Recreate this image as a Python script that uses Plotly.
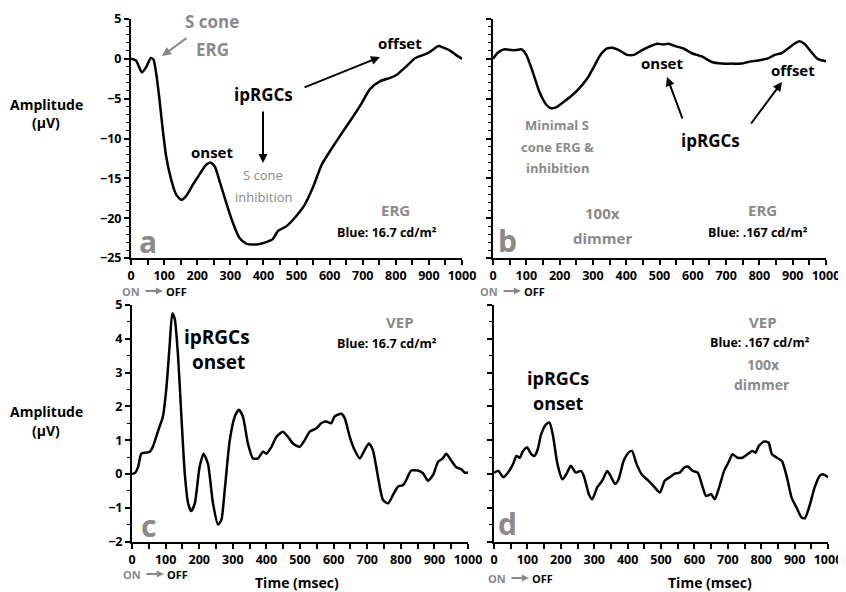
import plotly.graph_objects as go

# ---------------- data ----------------
time_a = [0, 15, 33, 45, 60, 68, 76, 86, 96, 106, 121, 136, 152, 167, 187, 207, 227, 240, 253, 268,
          288, 308, 328, 348, 379, 409, 429, 444, 470, 500, 525, 551, 576, 601, 631, 662, 692, 722,
          753, 783, 803, 833, 859, 884, 899, 914, 929, 944, 965, 985, 1000]
amp_a = [0, -0.2, -1.7, -1.1, 0.1, -0.1, -1.8, -5.1, -8.9, -12.2, -15.1, -17.0, -17.7, -17.2, -15.8,
         -14.5, -13.3, -13.0, -13.5, -15.4, -18.1, -20.6, -22.5, -23.2, -23.3, -23.0, -22.6, -21.6,
         -21.0, -19.7, -18.3, -16.0, -13.3, -11.6, -9.7, -7.8, -5.9, -3.8, -2.8, -2.4, -2.0, -0.9,
         0.1, 0.5, 0.75, 1.2, 1.6, 1.4, 1.0, 0.4, 0]

time_b = [0, 15, 35, 55, 70, 85, 100, 119, 139, 159, 174, 189, 209, 234, 259, 284, 303, 323, 343,
          358, 378, 403, 423, 448, 473, 493, 512, 527, 547, 572, 597, 627, 657, 687, 716, 746, 766,
          796, 826, 846, 866, 886, 905, 920, 935, 955, 975, 1000]
amp_b = [0, 0.8, 1.2, 1.1, 1.1, 1.2, 0.5, -1.6, -4.1, -5.7, -6.2, -6.1, -5.5, -4.7, -3.7, -2.4,
         -1.0, 0.5, 1.3, 1.4, 1.1, 0.5, 0.5, 1.1, 1.6, 1.9, 1.8, 1.9, 1.6, 1.3, 0.7, 0.3, -0.4,
         -0.6, -0.6, -0.6, -0.4, -0.2, 0.05, 0.5, 0.7, 1.3, 1.9, 2.2, 1.9, 0.9, 0.0, -0.3]

time_c = [0, 10, 18, 28, 43, 53, 62, 72, 82, 92, 102, 112, 120, 127, 137, 147, 157, 167, 176, 187,
          201, 213, 226, 241, 256, 266, 276, 291, 306, 318, 330, 345, 360, 375, 390, 400, 415, 430,
          449, 464, 479, 499, 514, 529, 549, 563, 578, 593, 603, 623, 633, 648, 663, 678, 692, 705,
          717, 732, 747, 762, 777, 792, 807, 816, 831, 851, 866, 881, 896, 911, 925, 935, 950, 965,
          980, 990, 1000]
amp_c = [0, 0.04, 0.2, 0.6, 0.63, 0.66, 0.8, 1.1, 1.4, 1.7, 2.5, 3.8, 4.75, 4.6, 3.5, 1.7, 0.02,
         -0.87, -1.1, -0.87, 0.2, 0.6, 0.3, -0.87, -1.5, -1.36, -0.47, 1.0, 1.7, 1.9, 1.7, 0.9,
         0.46, 0.46, 0.66, 0.6, 0.8, 1.1, 1.25, 1.1, 0.9, 0.8, 1.0, 1.25, 1.35, 1.5, 1.55, 1.5,
         1.7, 1.78, 1.65, 1.1, 0.7, 0.46, 0.7, 0.9, 0.7, -0.08, -0.77, -0.87, -0.62, -0.37, -0.33,
         -0.18, 0.1, 0.1, 0.02, -0.2, -0.03, 0.36, 0.46, 0.6, 0.4, 0.2, 0.14, 0.04, 0.04]

time_d = [0, 13, 28, 42, 57, 67, 77, 87, 99, 112, 121, 131, 141, 156, 166, 176, 190, 205, 217, 230,
          245, 260, 269, 284, 294, 309, 324, 339, 349, 363, 373, 388, 403, 413, 427, 442, 462, 477,
          497, 511, 526, 541, 556, 570, 580, 595, 610, 625, 635, 650, 661, 674, 689, 704, 714, 729,
          744, 759, 773, 783, 793, 809, 822, 832, 847, 862, 877, 891, 906, 921, 931, 946, 960, 975,
          985, 1000]
amp_d = [0.04, 0.09, -0.1, 0.04, 0.29, 0.53, 0.48, 0.68, 0.78, 0.58, 0.53, 0.73, 1.17, 1.47, 1.52,
         1.17, 0.29, -0.16, 0.0, 0.24, 0.04, 0.09, -0.06, -0.6, -0.75, -0.4, -0.2, 0.09, -0.06,
         -0.3, -0.16, 0.38, 0.63, 0.68, 0.29, -0.01, -0.2, -0.35, -0.55, -0.2, -0.1, 0.01, 0.04,
         0.19, 0.22, 0.09, 0.04, -0.4, -0.65, -0.6, -0.75, -0.4, 0.09, 0.38, 0.58, 0.48, 0.48,
         0.58, 0.68, 0.63, 0.83, 0.96, 0.93, 0.58, 0.48, 0.38, -0.1, -0.7, -1.0, -1.29, -1.31,
         -0.9, -0.4, -0.06, -0.01, -0.1]

x_ticks = [0, 100, 200, 300, 400, 500, 600, 700, 800, 900, 1000]
erg_ticks = [5, 0, -5, -10, -15, -20, -25]
vep_ticks = [5, 4, 3, 2, 1, 0, -1, -2]

# ---------------- layout helpers ----------------
# the page body adds an 8px margin at top/left; the figure fills the rest of the window
OFF = 8
W, H = 846 - OFF, 592 - OFF
def px(x):
    return (x - OFF) / W
def py(y):
    return 1 - (y - OFF) / H

FONT = "Open Sans"
GRAY = "#8a8a8a"

fig = go.Figure()
series = [(time_a, amp_a, "x", "y"), (time_b, amp_b, "x2", "y2"),
          (time_c, amp_c, "x3", "y3"), (time_d, amp_d, "x4", "y4")]
for t, a, xa, ya in series:
    fig.add_trace(go.Scatter(x=t, y=a, xaxis=xa, yaxis=ya, mode="lines",
                             line=dict(color="black", width=2.5, shape="spline", smoothing=0.6),
                             showlegend=False, hoverinfo="skip"))

def xaxis(domain, anchor):
    return dict(domain=domain, anchor=anchor, range=[0, 1000], tickvals=x_ticks,
                ticks="outside", ticklen=5, tickwidth=1.5, tickcolor="black",
                showline=True, linewidth=2, linecolor="black", showgrid=False, zeroline=False,
                automargin=False, ticklabeloverflow="allow",
                minor=dict(dtick=50, tick0=0, ticks="outside", ticklen=5, tickwidth=1.5, tickcolor="black"),
                tickfont=dict(family=FONT, size=12.5, color="black", weight="bold"),
                fixedrange=True)

def yaxis(domain, anchor, rng, ticks, minor_dt, labels):
    return dict(domain=domain, anchor=anchor, range=rng, tickvals=ticks,
                ticks="outside", ticklen=5, tickwidth=1.5, tickcolor="black",
                showline=True, linewidth=2, linecolor="black", showgrid=False, zeroline=False,
                showticklabels=labels, automargin=False, ticklabeloverflow="allow",
                minor=dict(dtick=minor_dt, tick0=0, ticks="outside", ticklen=3, tickwidth=1.2, tickcolor="black"),
                tickfont=dict(family=FONT, size=12.5, color="black", weight="bold"),
                fixedrange=True)

top_y = [py(258), py(19)]
bot_y = [py(541.5), py(305)]
fig.update_layout(
    width=W, height=H, margin=dict(l=0, r=0, t=0, b=0),
    paper_bgcolor="white", plot_bgcolor="white",
    xaxis=xaxis([px(131), px(462)], "y"),
    yaxis=yaxis(top_y, "x", [-25, 5], erg_ticks, 1, True),
    xaxis2=xaxis([px(493), px(826)], "y2"),
    yaxis2=yaxis(top_y, "x2", [-25, 5], erg_ticks, 1, False),
    xaxis3=xaxis([px(132), px(468)], "y3"),
    yaxis3=yaxis(bot_y, "x3", [-2, 5], vep_ticks, 0.5, True),
    xaxis4=xaxis([px(494), px(828)], "y4"),
    yaxis4=yaxis(bot_y, "x4", [-2, 5], vep_ticks, 0.5, False),
)

def text(x, y, s, size=15, color="black", bold=True):
    fig.add_annotation(x=px(x), y=py(y), xref="paper", yref="paper", text=s, showarrow=False,
                       xanchor="center", yanchor="middle",
                       font=dict(family=FONT, size=size, color=color, weight="bold" if bold else "normal"))

def arrow(x0, y0, x1, y1, color="black", width=2, head=2, size=1.0):
    # tail (x0,y0) -> head (x1,y1) in pixel coordinates
    fig.add_annotation(x=px(x1), y=py(y1), xref="paper", yref="paper", text="",
                       showarrow=True, ax=x0 - x1, ay=y0 - y1, axref="pixel", ayref="pixel",
                       arrowhead=head, arrowsize=size, arrowwidth=width, arrowcolor=color)

# y axis titles
for yc in (104, 411):
    text(46, yc, "Amplitude", 14)
    text(46, yc + 19, "(µV)", 14)
# x axis titles
text(297, 582, "Time (msec)", 14)
text(710, 582, "Time (msec)", 14)

# ON -> OFF markers
for (xon, y) in [(131, 291), (489, 291), (132, 574), (497, 578)]:
    text(xon, y, "ON", 11, GRAY)
    arrow(xon + 13, y, xon + 32, y, GRAY, 1.8, 2, 0.8)
    text(xon + 45, y, "OFF", 11)

# panel a
text(212, 22, "S cone", 17, GRAY)
text(212, 50, "ERG", 17, GRAY)
arrow(188, 37, 162, 56, GRAY, 2, 2, 0.9)
text(400, 43, "offset", 15)
arrow(303, 88, 380, 57, "black", 2, 2, 0.9)
text(263, 95, "ipRGCs", 17)
arrow(263, 110, 263, 163, "black", 2, 2, 0.9)
text(212, 152, "onset", 15)
text(263, 175, "S cone", 13, GRAY, False)
text(263, 197, "inhibition", 13, GRAY, False)
text(395, 210, "ERG", 15, GRAY)
text(387, 233, "Blue: 16.7 cd/m²", 12.5)
text(148, 242, "a", 30, GRAY)

# panel b
text(662, 63, "onset", 15)
text(793, 70, "offset", 15)
text(710, 140, "ipRGCs", 17)
arrow(683, 120, 667, 77, "black", 2, 2, 0.9)
arrow(750, 125, 782, 82, "black", 2, 2, 0.9)
text(557, 125, "Minimal S", 13, GRAY)
text(557, 147, "cone ERG &", 13, GRAY)
text(557, 168, "inhibition", 13, GRAY)
text(602, 213, "100x", 15, GRAY)
text(602, 238, "dimmer", 15, GRAY)
text(762, 210, "ERG", 15, GRAY)
text(758, 232, "Blue: .167 cd/m²", 12.5)
text(508, 240, "b", 30, GRAY)

# panel c
text(217, 337, "ipRGCs", 19)
text(218, 362, "onset", 19)
text(400, 322, "VEP", 15, GRAY)
text(387, 343, "Blue: 16.7 cd/m²", 12.5)
text(148, 525, "c", 30, GRAY)

# panel d
text(558, 378, "ipRGCs", 18)
text(558, 403, "onset", 18)
text(763, 322, "VEP", 15, GRAY)
text(760, 342, "Blue: .167 cd/m²", 12.5)
text(763, 365, "100x", 14, GRAY)
text(762, 384, "dimmer", 14, GRAY)
text(508, 523, "d", 30, GRAY)

fig.write_html("out.html")
